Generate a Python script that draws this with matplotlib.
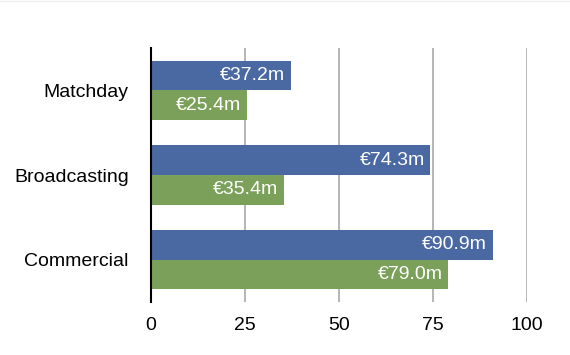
import matplotlib
matplotlib.use("Agg")
import matplotlib.pyplot as plt
import numpy as np

categories = ['Matchday', 'Broadcasting', 'Commercial']
blue_vals = [37.2, 74.3, 90.9]
green_vals = [25.4, 35.4, 79.0]
blue_labels = ['€37.2m', '€74.3m', '€90.9m']
green_labels = ['€25.4m', '€35.4m', '€79.0m']
xticks = [0, 25, 50, 75, 100]

plt.rcParams['font.family'] = ['Liberation Sans', 'DejaVu Sans']

blue = '#4A69A3'
green = '#7BA05A'

fig = plt.figure(figsize=(5.7, 3.55), dpi=100)
ax = fig.add_axes([0.265, 0.149, 0.6597, 0.716])

y = np.arange(len(categories))
h = 0.35
ax.barh(y - h / 2, blue_vals, height=h, color=blue, zorder=3)
ax.barh(y + h / 2, green_vals, height=h, color=green, zorder=3)

for yi, v, lab in zip(y, blue_vals, blue_labels):
    ax.text(v - 1.5, yi - h / 2, lab, color='white', ha='right', va='center', fontsize=14, zorder=4)
for yi, v, lab in zip(y, green_vals, green_labels):
    ax.text(v - 1.5, yi + h / 2, lab, color='white', ha='right', va='center', fontsize=14, zorder=4)

ax.set_xlim(0, 100)
ax.set_ylim(2.5, -0.5)
ax.set_xticks(xticks)
ax.set_yticks(y)
ax.set_yticklabels(categories, fontsize=14)
ax.tick_params(axis='x', length=0, labelsize=14, pad=11)
ax.tick_params(axis='y', length=0, pad=16)
ax.xaxis.grid(True, color='#b0b0b0', lw=1.3, zorder=0)
for s in ['top', 'right', 'bottom']:
    ax.spines[s].set_visible(False)
ax.spines['left'].set_color('black')
ax.spines['left'].set_linewidth(1.5)
ax.spines['left'].set_zorder(5)

fig.add_artist(plt.Line2D([0, 1], [0.997, 0.997], color='#eeeeee', lw=1))

plt.savefig('out.png', dpi=100)
